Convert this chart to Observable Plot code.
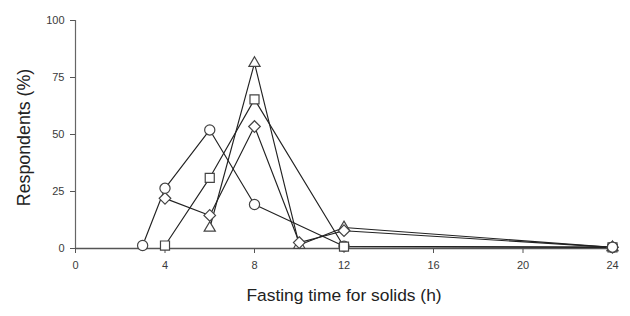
<!DOCTYPE html>
<html>
<head>
<meta charset="utf-8">
<script src="https://cdn.jsdelivr.net/npm/d3@7"></script>
<script src="https://cdn.jsdelivr.net/npm/@observablehq/plot@0.6"></script>
<style>
  html, body { margin: 0; padding: 0; background: #fff; }
  #chart { width: 630px; height: 316px; }
</style>
</head>
<body>
<div id="chart"></div>
<script>
const xTicks = [0, 4, 8, 12, 16, 20, 24];
const yTicks = [0, 25, 50, 75, 100];

const seriesNames = ["Group A", "Group B", "Group C", "Group D"];

// Group A (open triangles)
const groupAX = [6, 8, 10, 12, 24];
const groupAY = [9, 81.3, 1.5, 9.2, 0.5];

// Group B (open diamonds)
const groupBX = [4, 6, 8, 10, 12, 24];
const groupBY = [22, 14.5, 53.5, 2.6, 7.8, 0.5];

// Group C (open circles)
const groupCX = [3, 4, 6, 8, 12, 24];
const groupCY = [1.3, 26.4, 52, 19.3, 1, 0.6];

// Group D (open squares)
const groupDX = [4, 6, 8, 12, 24];
const groupDY = [1.3, 31, 65.4, 0.8, 0.5];

const xLabel = "Fasting time for solids (h)";
const yLabel = "Respondents (%)";

const seriesX = {"Group A": groupAX, "Group B": groupBX, "Group C": groupCX, "Group D": groupDX};
const seriesY = {"Group A": groupAY, "Group B": groupBY, "Group C": groupCY, "Group D": groupDY};

const rows = seriesNames.flatMap(s => seriesX[s].map((x, i) => ({series: s, x, y: seriesY[s][i]})));
const lastX = d3.max(xTicks);
const topRows = rows.filter(d => d.series === "Group C" && d.x === lastX);

// open marker shapes sized like the reference
const triSymbol = {
  draw(ctx) {
    const w = 5.6, h = 9.6;
    ctx.moveTo(0, -h * 2 / 3);
    ctx.lineTo(w, h / 3);
    ctx.lineTo(-w, h / 3);
    ctx.closePath();
  }
};
const diaSymbol = {
  draw(ctx) {
    const a = 5.8;
    ctx.moveTo(0, -a);
    ctx.lineTo(a, 0);
    ctx.lineTo(0, a);
    ctx.lineTo(-a, 0);
    ctx.closePath();
  }
};

const chart = Plot.plot({
  width: 630,
  height: 316,
  marginTop: 20,
  marginBottom: 68,
  marginLeft: 75,
  marginRight: 18,
  style: {fontFamily: "'Liberation Sans', Arial, sans-serif", background: "#fff"},
  x: {domain: [0, 24]},
  y: {domain: [0, 100]},
  symbol: {domain: seriesNames, range: [triSymbol, diaSymbol, "circle", "square"]},
  marks: [
    Plot.axisY({ticks: yTicks, tickSize: 5, tickPadding: 6, label: null, fontSize: 11, color: "#3a3a3a", stroke: "#555"}),
    Plot.axisX({ticks: xTicks, tickSize: 5, tickPadding: 8, label: null, fontSize: 11, color: "#3a3a3a", stroke: "#555"}),
    Plot.ruleX([0], {stroke: "#666", strokeWidth: 1.2}),
    Plot.ruleY([0], {stroke: "#555", strokeWidth: 1.6}),
    Plot.line(rows, {x: "x", y: "y", z: "series", stroke: "#222", strokeWidth: 1.15}),
    Plot.dot(rows, {x: "x", y: "y", symbol: "series", r: 5.1, fill: "white", stroke: "#444", strokeWidth: 1.2}),
    Plot.dot(topRows, {x: "x", y: "y", symbol: "series", r: 5.1, fill: "white", stroke: "#444", strokeWidth: 1.2}),
    Plot.text([xLabel], {frameAnchor: "bottom", dy: 52, fontSize: 17.4, fill: "#222"}),
    Plot.text([yLabel], {frameAnchor: "left", dx: -51, dy: 3, rotate: -90, textAnchor: "middle", fontSize: 17.8, fill: "#222"})
  ]
});
document.getElementById("chart").appendChild(chart);
</script>
</body>
</html>
